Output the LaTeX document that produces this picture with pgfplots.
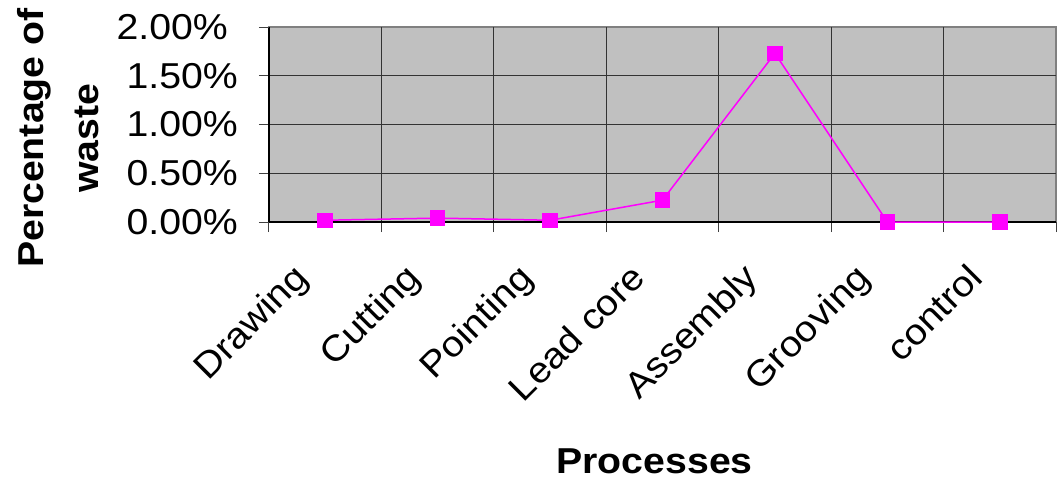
\documentclass[border=0pt]{standalone}
\usepackage{pgfplots}
\pgfplotsset{compat=1.18}
\usepackage{fontspec}
\setmainfont{Liberation Sans}[FakeStretch=1.09]
\definecolor{plotgray}{HTML}{C0C0C0}
\definecolor{wasteline}{HTML}{FF00FF}
\begin{document}
\begin{tikzpicture}
\begin{axis}[
    scale only axis,
    width=787pt, height=195pt,
    xmin=-0.5, xmax=6.5,
    ymin=0, ymax=2,
    axis lines*=left,
    axis line style={black, line width=1.2pt},
    axis background/.style={fill=plotgray, draw=gray, line width=1.5pt},
    tick align=outside,
    major tick length=0pt,
    minor tick length=10pt,
    tick style={black!75, line width=1pt},
    font=\fontsize{36}{43}\selectfont,
    % categories sit at 0..6, boundaries carry the ticks and the grid
    xtick={0,...,6},
    xticklabels={Drawing,Cutting,Pointing,Lead core,Assembly,Grooving,control},
    minor xtick={-0.5,0.5,...,5.5},
    xminorgrids,
    ytick={0,0.5,1,1.5},
    yticklabels={0.00\%,0.50\%,1.00\%,1.50\%},
    minor ytick={0,0.5,1,1.5},
    ymajorgrids,
    grid style={black!80, line width=1pt},
    extra x ticks={6.5},
    extra x tick labels={},
    extra y ticks={2},
    extra y tick labels={2.00\%},
    extra tick style={grid=none, major tick length=10pt},
    xticklabel style={inner sep=0pt, text height=0.75em, text depth=0.25em,
        shift={(-17pt,-56pt)}, rotate=45, anchor=east},
    yticklabel style={inner sep=0pt, xshift=-31pt},
    xlabel={Processes},
    xlabel style={font=\fontsize{36}{43}\selectfont\bfseries,
        at={(axis description cs:0.49,0)}, anchor=base, yshift=-251pt},
    ylabel={Percentage of\\waste},
    ylabel style={font=\fontsize{36}{55}\selectfont\bfseries, align=center,
        at={([xshift=-211pt]axis description cs:0,0.43)}, anchor=center},
]
\addplot[color=wasteline, line width=1.5pt, mark=square*,
    mark size=7pt, mark options={solid, fill=wasteline}]
    coordinates {(0,0.018) (1,0.040) (2,0.018) (3,0.224) (4,1.730) (5,0.000) (6,0.000)};
\end{axis}
\pgfresetboundingbox
\useasboundingbox (-269pt,-258pt) rectangle (789pt,222pt);
\end{tikzpicture}
\end{document}
